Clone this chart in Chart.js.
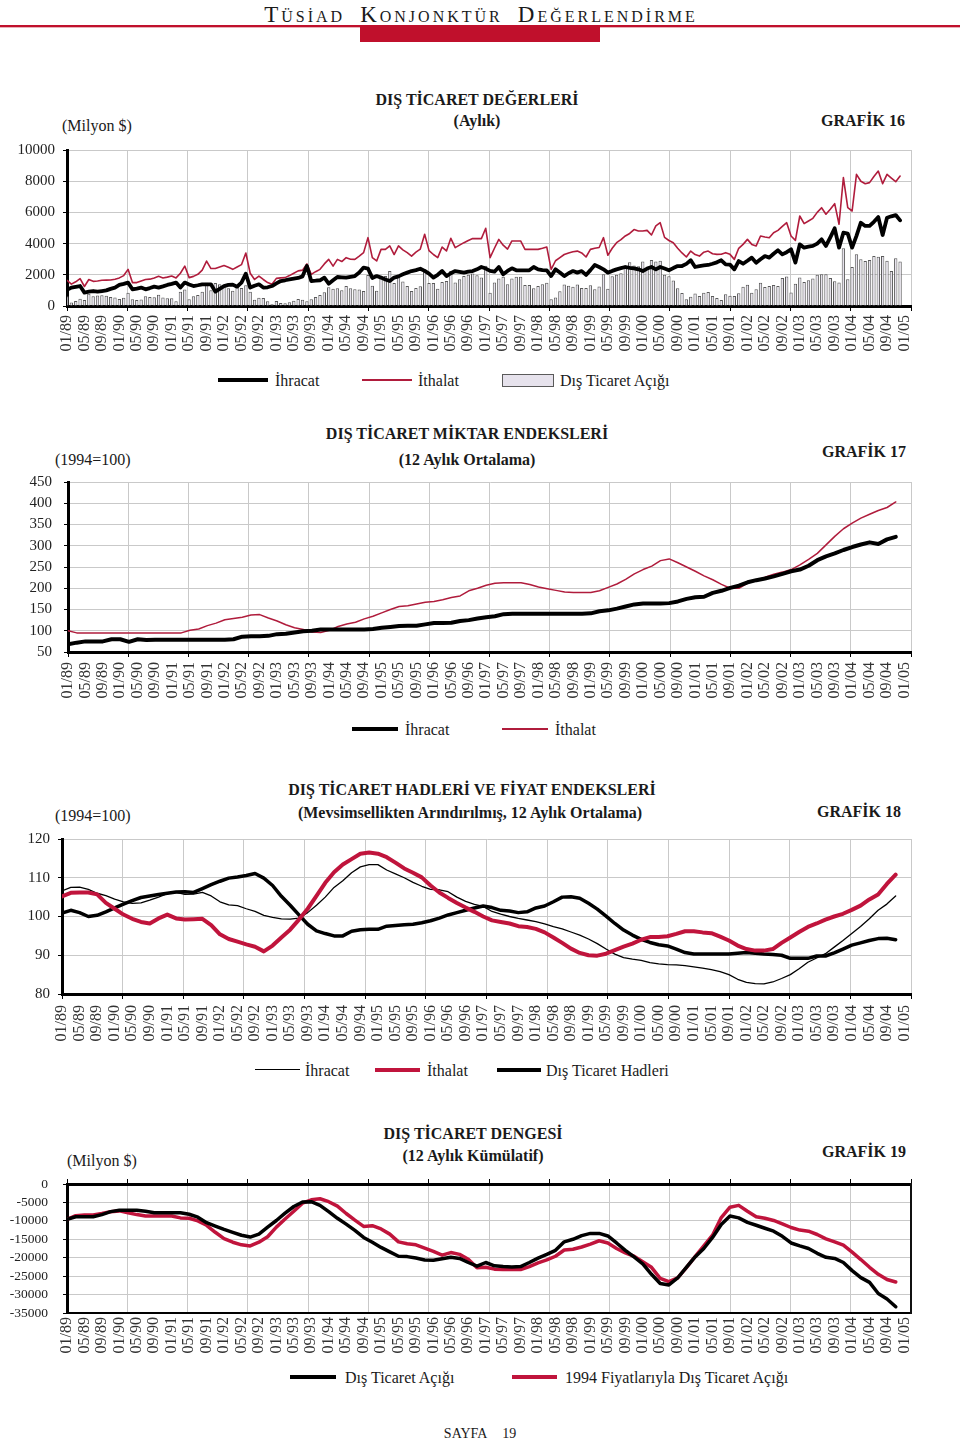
<!DOCTYPE html>
<html lang="tr">
<head>
<meta charset="utf-8">
<title>TÜSİAD Konjonktür Değerlendirme - Dış Ticaret</title>
<script src="https://cdn.jsdelivr.net/npm/chart.js@4.4.1/dist/chart.umd.min.js"></script>
<style>
  html, body { margin: 0; padding: 0; background: #fff; }
  body { width: 960px; height: 1442px; position: relative; overflow: hidden;
         font-family: "Liberation Serif", "Times New Roman", serif; color: #1a1a1a; }
  .t { position: absolute; white-space: nowrap; line-height: 1; }
  .c { transform: translate(-50%, -50%); }
  .l { transform: translateY(-50%); }
  .r { transform: translate(-100%, -50%); }
  .ttl { font-weight: bold; font-size: 16px; }
  .unit { font-size: 16px; }
  .leg { font-size: 16px; }
  .sw { position: absolute; }
  .big { font-size: 23px; }
  canvas { position: absolute; left: 0; }
</style>
</head>
<body>

<!-- page header -->
<div class="t c" style="left:481px;top:14px;font-size:16px;letter-spacing:3px;word-spacing:8px;">
  <span class="big">T</span>ÜSİAD <span class="big">K</span>ONJONKTÜR <span class="big">D</span>EĞERLENDİRME
</div>
<div class="sw" style="left:0;top:25px;width:960px;height:2px;background:#c0102c;"></div>
<div class="sw" style="left:0;top:27px;width:960px;height:1px;background:#eab0b8;"></div>
<div class="sw" style="left:360px;top:27px;width:240px;height:15px;background:#c0102c;"></div>

<!-- GRAFİK 16 -->
<div class="t c ttl" style="left:477px;top:100px;">DIŞ TİCARET DEĞERLERİ</div>
<div class="t c ttl" style="left:477px;top:121px;">(Aylık)</div>
<div class="t l unit" style="left:62px;top:126px;">(Milyon $)</div>
<div class="t r ttl" style="left:905px;top:121px;">GRAFİK 16</div>
<canvas id="c16" width="960" height="231" style="top:125px;"></canvas>
<div class="sw" style="left:218px;top:378px;width:50px;height:4px;background:#000;"></div>
<div class="t l leg" style="left:275px;top:381px;">İhracat</div>
<div class="sw" style="left:362px;top:379px;width:50px;height:1.5px;background:#b01c3c;"></div>
<div class="t l leg" style="left:418px;top:381px;">İthalat</div>
<div class="sw" style="left:502px;top:374px;width:50px;height:11px;background:#e6e2ec;border:1px solid #5a5a5a;"></div>
<div class="t l leg" style="left:560px;top:381px;">Dış Ticaret Açığı</div>

<!-- GRAFİK 17 -->
<div class="t c ttl" style="left:467px;top:434px;">DIŞ TİCARET MİKTAR ENDEKSLERİ</div>
<div class="t c ttl" style="left:467px;top:460px;">(12 Aylık Ortalama)</div>
<div class="t l unit" style="left:55px;top:460px;">(1994=100)</div>
<div class="t r ttl" style="left:906px;top:452px;">GRAFİK 17</div>
<canvas id="c17" width="960" height="245" style="top:457px;"></canvas>
<div class="sw" style="left:352px;top:727px;width:46px;height:4px;background:#000;"></div>
<div class="t l leg" style="left:405px;top:730px;">İhracat</div>
<div class="sw" style="left:502px;top:728px;width:46px;height:1.5px;background:#b01c3c;"></div>
<div class="t l leg" style="left:555px;top:730px;">İthalat</div>

<!-- GRAFİK 18 -->
<div class="t c ttl" style="left:472px;top:790px;">DIŞ TİCARET HADLERİ VE FİYAT ENDEKSLERİ</div>
<div class="t c ttl" style="left:470px;top:813px;">(Mevsimsellikten Arındırılmış, 12 Aylık Ortalama)</div>
<div class="t l unit" style="left:55px;top:816px;">(1994=100)</div>
<div class="t r ttl" style="left:901px;top:812px;">GRAFİK 18</div>
<canvas id="c18" width="960" height="230" style="top:814px;"></canvas>
<div class="sw" style="left:255px;top:1069px;width:45px;height:1.3px;background:#000;"></div>
<div class="t l leg" style="left:305px;top:1071px;">İhracat</div>
<div class="sw" style="left:375px;top:1068px;width:45px;height:4px;background:#c0143c;"></div>
<div class="t l leg" style="left:427px;top:1071px;">İthalat</div>
<div class="sw" style="left:497px;top:1068px;width:44px;height:4px;background:#000;"></div>
<div class="t l leg" style="left:546px;top:1071px;">Dış Ticaret Hadleri</div>

<!-- GRAFİK 19 -->
<div class="t c ttl" style="left:473px;top:1134px;">DIŞ TİCARET DENGESİ</div>
<div class="t c ttl" style="left:473px;top:1156px;">(12 Aylık Kümülatif)</div>
<div class="t l unit" style="left:67px;top:1161px;">(Milyon $)</div>
<div class="t r ttl" style="left:906px;top:1152px;">GRAFİK 19</div>
<canvas id="c19" width="960" height="204" style="top:1159px;"></canvas>
<div class="sw" style="left:290px;top:1375px;width:46px;height:4px;background:#000;"></div>
<div class="t l leg" style="left:345px;top:1378px;">Dış Ticaret Açığı</div>
<div class="sw" style="left:512px;top:1375px;width:45px;height:4px;background:#c0143c;"></div>
<div class="t l leg" style="left:565px;top:1378px;">1994 Fiyatlarıyla Dış Ticaret Açığı</div>

<div class="t c" style="left:480px;top:1434px;font-size:14px;word-spacing:12px;">SAYFA 19</div>

<script>
// x axis: one position per month from 01/89, labels every 4 months
const xTickLabels = [
    '01/89','05/89','09/89','01/90','05/90','09/90','01/91','05/91','09/91',
    '01/92','05/92','09/92','01/93','05/93','09/93','01/94','05/94','09/94',
    '01/95','05/95','09/95','01/96','05/96','09/96','01/97','05/97','09/97',
    '01/98','05/98','09/98','01/99','05/99','09/99','01/00','05/00','09/00',
    '01/01','05/01','09/01','01/02','05/02','09/02','01/03','05/03','09/03',
    '01/04','05/04','09/04','01/05'
];

// Grafik 16 - monthly values, million $
const ithalat16 = [
    1650,1400,1550,1750,1250,1700,1580,1600,1650,1660,
    1670,1720,1800,1950,2350,1500,1500,1600,1700,1720,
    1800,1900,1800,1850,1920,1800,2100,2560,1820,1900,
    2030,2300,2880,2400,2400,2500,2600,2480,2350,2500,
    2650,3400,2100,1700,1920,1700,1500,1390,1770,1800,
    1820,1950,2100,2250,2300,2700,2030,2200,2350,2700,
    2990,2560,2990,2850,3100,3000,2990,3200,3420,4380,
    3100,2890,3630,3630,3850,3300,3850,3600,3420,3200,
    3450,3650,4600,3550,3300,3100,3780,3530,4340,3740,
    3900,4060,4200,4320,4320,4320,4980,3100,3700,4270,
    3900,3650,4170,4170,4170,3630,3630,3630,3630,3700,
    3780,2350,2900,3100,3300,3400,3480,3520,3400,3140,
    3630,3700,3750,4380,3250,3700,4060,4250,4490,4650,
    4900,4810,4810,4850,4550,5130,5340,4400,4200,4060,
    3700,3400,3140,3520,3300,3200,3450,3520,3350,3310,
    3320,3420,3310,2990,3700,3950,4270,3950,3850,4490,
    4420,4380,4700,4850,5100,5340,4490,4210,5770,5280,
    5450,5620,6000,6300,5880,6200,6560,5240,8230,6300,
    6090,8440,8000,7840,7910,8300,8650,7840,8440,8200,
    7970,8330
];
const ihracat16 = [
    1030,1180,1230,1280,860,920,960,920,960,1000,
    1100,1180,1350,1420,1500,1070,1120,1180,1070,1150,
    1240,1180,1260,1350,1420,1500,1180,1500,1380,1280,
    1330,1390,1390,1390,920,1100,1280,1350,1370,1240,
    1500,2070,1180,1300,1390,1180,1200,1280,1450,1600,
    1650,1710,1760,1800,1900,2560,1600,1620,1650,1820,
    1430,1650,1860,1840,1820,1870,1920,2140,2460,2400,
    1800,1920,1820,1700,1600,1820,1900,2030,2140,2240,
    2300,2390,2250,2070,1820,2000,2240,1920,2100,2240,
    2190,2140,2200,2240,2350,2500,2400,2250,2200,2500,
    2030,2250,2415,2290,2290,2290,2290,2500,2350,2300,
    2290,1920,2350,2150,1920,2100,2240,2140,2240,1990,
    2300,2630,2500,2350,2140,2250,2350,2430,2500,2450,
    2415,2350,2240,2400,2500,2350,2500,2400,2290,2430,
    2560,2560,2700,2930,2500,2560,2600,2630,2710,2800,
    2930,2670,2650,2350,2880,2710,2900,3100,2780,3000,
    3200,3100,3350,3570,3310,3450,3630,2780,3950,3740,
    3800,3850,4000,4270,3850,4400,4980,3740,4700,4640,
    3740,4500,5340,5130,5130,5400,5700,4550,5660,5750,
    5830,5490
];
const acik16 = [
    620,220,320,470,390,780,620,680,690,660,
    570,540,450,530,850,430,380,420,630,570,
    560,720,540,500,500,300,920,1060,440,620,
    700,910,1490,1010,1480,1400,1320,1130,980,1260,
    1150,1330,920,400,530,520,300,110,320,200,
    170,240,340,450,400,300,430,580,700,880,
    1200,1100,1130,1010,1280,1130,1070,1060,960,1980,
    1300,970,1810,1930,2250,1480,1950,1570,1280,960,
    1150,1260,2350,1480,1480,1100,1540,1610,2240,1500,
    1710,1920,2000,2080,1970,1820,2580,850,1500,1770,
    1870,1400,1755,1880,1880,1340,1340,1130,1280,1400,
    1490,430,550,950,1380,1300,1240,1380,1160,1150,
    1330,1070,1250,2030,1110,1900,2000,2100,2600,2800,
    2600,2550,2850,2450,2950,2850,2900,2000,1900,1630,
    1140,840,440,590,800,640,850,890,640,510,
    390,750,660,640,820,1240,1370,850,1070,1490,
    1220,1280,1350,1280,1790,1890,860,1430,1820,1540,
    1650,1770,2000,2030,2030,1800,1580,1500,3700,1710,
    2500,3310,2990,2890,2950,3200,3150,3200,2900,2240,
    3060,2850
];

// Grafik 17 - every second month, 1994=100
const ihracat17 = [
    68,72,75,75,75,80,80,74,80,78,
    79,79,79,79,79,79,79,79,79,80,
    86,87,87,88,92,93,96,99,100,103,
    103,103,103,103,103,104,107,109,111,112,
    112,115,118,118,119,123,125,129,132,134,
    139,140,140,140,140,140,140,140,140,140,
    141,146,148,152,157,162,164,164,164,165,
    169,175,179,180,189,194,201,206,214,219,
    223,228,234,240,244,253,266,275,282,290,
    297,303,308,304,315,321
];
const ithalat17 = [
    100,95,95,95,95,95,95,95,95,95,
    95,95,95,95,101,104,112,118,126,129,
    132,137,138,130,123,114,107,103,97,96,
    101,110,116,120,128,134,142,150,157,159,
    163,167,169,173,178,182,194,200,207,212,
    213,213,213,209,203,199,195,191,190,190,
    190,194,202,210,221,234,244,252,265,269,
    260,250,240,229,220,209,200,200,212,218,
    226,233,238,244,255,268,282,302,322,340,
    353,365,374,383,390,403
];

// Grafik 18 - every second month, 1994=100
const ihracat18 = [
    106.6,107.5,107.6,107,106,105.4,104.5,103.8,103.4,103.5,
    104.2,105,105.9,106.2,105.7,105.8,106.2,105.3,103.8,103,
    102.8,102,101.3,100.3,99.8,99.4,99.3,99.6,101,102.9,
    105,107.5,109.2,111.3,112.8,113.4,113.4,112,111,110,
    108.8,107.8,107,106.9,106.4,105,103.9,103.1,102.6,101.3,
    100.6,100,99.5,99.1,98.7,98.1,97.4,96.8,96,95.2,
    94.2,93,91.6,90.3,89.4,89,88.7,88.1,87.8,87.6,
    87.5,87.3,87,86.7,86.3,85.8,85,83.8,83,82.7,
    82.6,83.1,84,85,86.5,88.2,89.3,90.4,92.1,93.8,
    95.6,97.4,99.4,101.6,103.2,105.3
];
const ithalat18 = [
    105.2,106.1,106.2,106.2,105.7,103.5,102,100.5,99.4,98.6,
    98.2,99.5,100.5,99.5,99.2,99.3,99.4,97.8,95.4,94.2,
    93.5,92.8,92.2,91,92.5,94.6,96.6,99.2,102,105.3,
    108.7,111.4,113.4,114.8,116.2,116.5,116.2,115.3,113.9,112.4,
    111.3,110.1,108,106.2,104.8,103.5,102.3,101.2,100,99,
    98.6,98.2,97.5,97.3,96.8,95.9,94.6,93.2,91.7,90.6,
    90,89.9,90.4,91.3,92.2,93,94,94.7,94.7,94.9,
    95.5,96.2,96.2,95.9,95.7,94.8,93.8,92.5,91.6,91.2,
    91.2,91.6,93.2,94.6,96,97.3,98.2,99.2,100,100.7,
    101.7,102.8,104.4,105.7,108.4,110.8
];
const hadler18 = [
    100.9,101.6,101,100,100.3,101.2,102.2,103.2,104.1,104.9,
    105.3,105.7,106,106.3,106.4,106.2,107.2,108.2,109.1,109.9,
    110.2,110.6,111.1,109.9,108,105.2,102.9,100.4,98,96.3,
    95.6,95,95,96.2,96.6,96.7,96.7,97.5,97.7,97.9,
    98,98.4,98.9,99.6,100.4,101,101.6,102.2,102.7,102.3,
    101.6,101.4,101,101.2,102.2,102.7,103.8,105,105.1,104.7,
    103.4,101.9,100.1,98.2,96.5,95.2,94.1,93.3,92.7,92.4,
    91.6,90.7,90.3,90.3,90.3,90.3,90.3,90.5,90.7,90.5,
    90.3,90.2,90,89.2,89.2,89.2,89.8,89.8,90.6,91.6,
    92.6,93.2,93.8,94.3,94.4,94
];

// Grafik 19 - every second month, million $
const acik19 = [
    -9600,-8900,-8900,-8900,-8300,-7500,-7100,-7100,-7100,-7400,
    -7800,-7800,-7800,-7800,-8200,-9000,-10500,-11400,-12300,-13100,
    -13900,-14400,-13600,-11700,-9900,-7900,-6100,-4900,-4800,-5800,
    -7500,-9300,-10900,-12600,-14500,-15800,-17200,-18400,-19600,-19700,
    -20100,-20600,-20700,-20300,-19900,-20200,-21300,-22300,-21300,-22200,
    -22400,-22500,-22400,-21300,-20100,-19100,-18000,-15700,-15000,-14000,
    -13400,-13400,-14100,-16000,-18000,-19800,-21700,-24500,-27000,-27400,
    -25500,-22600,-19800,-17500,-14500,-11000,-8700,-9200,-10400,-11200,
    -12000,-12800,-14200,-16000,-16800,-17500,-18800,-19900,-20200,-21300,
    -23500,-25400,-26700,-29700,-31200,-33300
];
const acik1994_19 = [
    -9600,-8600,-8400,-8400,-8000,-7500,-7300,-7800,-8300,-8700,
    -8700,-8700,-8700,-9200,-9300,-10000,-11200,-13100,-14800,-15800,
    -16500,-16800,-15800,-14300,-11700,-9500,-7400,-5200,-4300,-4000,
    -4800,-6000,-8000,-9800,-11500,-11300,-12200,-13600,-15700,-16200,
    -16500,-17400,-18300,-19300,-18600,-19100,-20400,-22700,-22600,-23100,
    -23200,-23200,-23200,-22400,-21400,-20600,-19600,-17900,-17700,-17100,
    -16300,-15400,-16000,-17500,-18700,-19600,-21100,-22600,-25600,-26500,
    -25500,-22700,-19700,-16800,-13900,-9100,-6300,-5800,-7400,-8900,
    -9300,-9900,-10800,-11800,-12500,-12800,-13700,-14900,-15700,-16600,
    -18500,-20500,-22600,-24500,-25900,-26600
];

// y axis tick labels
const y16Ticks = [0, 2000, 4000, 6000, 8000, 10000];
const y17Ticks = [50, 100, 150, 200, 250, 300, 350, 400, 450];
const y18Ticks = [80, 90, 100, 110, 120];
const y19Ticks = [0, -5000, -10000, -15000, -20000, -25000, -30000, -35000];

const SERIF = '"Liberation Serif", "Times New Roman", serif';
const GRID = '#c9c9c9';
const RED = '#b01c3c';
const RED_THICK = '#c0143c';
const X_MAX = 193.5;
const TOP_PAD = 25;
const tickMonths = xTickLabels.map((_, i) => i * 4);

const pts = (values, step) => values.map((v, i) => ({ x: i * step, y: v }));

const buildScales = (o) => {
    const hidden = o.hideGrid || [];
    const scales = {
        x: {
            type: 'linear', min: 0, max: X_MAX, offset: false, position: 'bottom', weight: 1,
            afterBuildTicks: (s) => { s.ticks = tickMonths.map(m => ({ value: m })); },
            afterFit: (s) => { s.height = 50; },
            ticks: {
                autoSkip: false, minRotation: 90, maxRotation: 90, padding: o.xPad,
                color: '#333', font: { family: SERIF, size: 16 },
                callback: (v, i) => xTickLabels[i]
            },
            grid: { display: false, offset: false },
            border: { display: true, color: '#000', width: o.xBorder }
        },
        xg: {
            type: 'linear', min: 0, max: X_MAX, offset: false, position: o.gridPos, weight: 0,
            afterBuildTicks: (s) => {
                s.ticks = Array.from({ length: 15 }, (_, i) => ({ value: i * X_MAX / 14 }));
            },
            afterFit: (s) => { s.height = 0; },
            ticks: { display: false },
            grid: { color: GRID, tickColor: '#000', tickLength: 5, lineWidth: 1, offset: false },
            border: { display: o.gridPos === 'top', color: '#000', width: 3 }
        },
        y: {
            type: 'linear', min: o.yMin, max: o.yMax, position: 'left',
            afterFit: (s) => { s.width = o.left; },
            afterBuildTicks: (s) => { s.ticks = o.yTicks.map(v => ({ value: v })); },
            ticks: {
                autoSkip: false, padding: o.yPad, color: '#222',
                font: { family: SERIF, size: o.yFont },
                callback: (v) => String(v)
            },
            grid: {
                color: (c) => (c.tick && hidden.includes(c.tick.value)) ? 'rgba(0,0,0,0)' : GRID,
                tickColor: '#000', tickLength: 4
            },
            border: { display: true, color: '#000', width: 3 }
        }
    };
    if (o.boxRight) {
        scales.yr = {
            type: 'linear', min: o.yMin, max: o.yMax, position: 'right',
            afterFit: (s) => { s.width = 0; },
            ticks: { display: false },
            grid: { display: false },
            border: { display: true, color: '#111', width: 2 }
        };
    }
    return scales;
};

const baseOptions = (scales) => ({
    responsive: false,
    animation: false,
    events: [],
    layout: { padding: { top: TOP_PAD, right: 49, left: 0, bottom: 0 } },
    plugins: { legend: { display: false }, tooltip: { enabled: false } },
    elements: { point: { radius: 0 }, line: { tension: 0, borderJoinStyle: 'round', borderCapStyle: 'round' } },
    scales
});

const line = (data, color, width, order) => ({
    type: 'line', data, borderColor: color, borderWidth: width, fill: false, order,
    pointRadius: 0, xAxisID: 'x', yAxisID: 'y'
});

// GRAFİK 16
new Chart(document.getElementById('c16'), {
    type: 'line',
    data: {
        datasets: [
            line(pts(ihracat16, 1), '#000', 3.8, 1),
            line(pts(ithalat16, 1), RED, 1.6, 2),
            {
                type: 'bar', data: pts(acik16, 1), order: 3, xAxisID: 'x', yAxisID: 'y',
                backgroundColor: '#e6e2ec', borderColor: '#5a5a5a', borderWidth: 1,
                barPercentage: 0.9, categoryPercentage: 0.85
            }
        ]
    },
    options: baseOptions(buildScales({
        left: 67, yMin: 0, yMax: 10000, yTicks: y16Ticks, yPad: 8, yFont: 15,
        hideGrid: [0], gridPos: 'bottom', xBorder: 3, xPad: 1
    }))
});

// GRAFİK 17
new Chart(document.getElementById('c17'), {
    type: 'line',
    data: {
        datasets: [
            line(pts(ihracat17, 2), '#000', 4, 1),
            line(pts(ithalat17, 2), RED, 1.5, 2)
        ]
    },
    options: baseOptions(buildScales({
        left: 68, yMin: 50, yMax: 450, yTicks: y17Ticks, yPad: 12, yFont: 15,
        hideGrid: [50], gridPos: 'bottom', xBorder: 3, xPad: 2
    }))
});

// GRAFİK 18
new Chart(document.getElementById('c18'), {
    type: 'line',
    data: {
        datasets: [
            line(pts(ithalat18, 2), RED_THICK, 4, 1),
            line(pts(hadler18, 2), '#000', 3.5, 2),
            line(pts(ihracat18, 2), '#000', 1.3, 3)
        ]
    },
    options: baseOptions(buildScales({
        left: 62, yMin: 80, yMax: 120, yTicks: y18Ticks, yPad: 8, yFont: 15,
        hideGrid: [80], gridPos: 'bottom', xBorder: 3, xPad: 3
    }))
});

// GRAFİK 19
new Chart(document.getElementById('c19'), {
    type: 'line',
    data: {
        datasets: [
            line(pts(acik19, 2), '#000', 3.5, 1),
            line(pts(acik1994_19, 2), RED_THICK, 3.5, 2)
        ]
    },
    options: baseOptions(buildScales({
        left: 67, yMin: -35000, yMax: 0, yTicks: y19Ticks, yPad: 15, yFont: 13.5,
        hideGrid: [0, -35000], gridPos: 'top', xBorder: 2, boxRight: true, xPad: -4
    }))
});
</script>
</body>
</html>
